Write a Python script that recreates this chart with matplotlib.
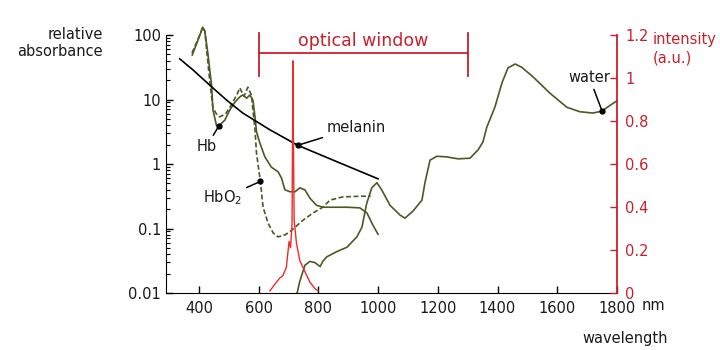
import numpy as np
import matplotlib.pyplot as plt
from matplotlib.ticker import FixedLocator, FixedFormatter, NullFormatter, LogLocator

plt.rcParams['font.family'] = 'DejaVu Sans'

# Hb (solid) - wavelength nm, log10(relative absorbance)
hb_wl = [378, 397, 413, 420, 430, 443, 447, 459, 467, 487, 504, 521, 537, 547, 560,
         571, 581, 588, 593, 604, 621, 643, 665, 677, 688, 705, 722, 738, 755, 772,
         794, 815, 896, 939, 963, 983, 1000]
hb_log = [1.69, 1.92, 2.12, 2.06, 1.72, 1.20, 0.84, 0.60, 0.59, 0.68, 0.84, 0.96, 1.04,
          1.07, 1.02, 1.07, 0.99, 0.73, 0.50, 0.33, 0.11, -0.05, -0.12, -0.22, -0.40,
          -0.43, -0.43, -0.37, -0.40, -0.53, -0.64, -0.67, -0.67, -0.68, -0.76, -0.95,
          -1.09]

# HbO2 (dashed)
hbo2_wl = [377, 403, 413, 420, 437, 447, 458, 470, 490, 504, 527, 537, 551, 564, 576,
           581, 588, 593, 606, 615, 632, 649, 665, 688, 705, 722, 749, 782, 815, 839,
           882, 939, 975]
hbo2_log = [1.72, 2.0, 2.12, 2.06, 1.26, 0.88, 0.78, 0.73, 0.78, 0.88, 1.07, 1.18, 1.05,
            1.19, 1.07, 0.84, 0.53, 0.17, -0.27, -0.67, -0.92, -1.07, -1.13, -1.10,
            -1.05, -0.98, -0.87, -0.76, -0.67, -0.56, -0.51, -0.50, -0.50]

# water
water_wl = [729, 738, 755, 772, 789, 806, 815, 828, 861, 896, 929, 946, 962, 979, 996,
            1012, 1040, 1073, 1090, 1117, 1147, 1157, 1174, 1197, 1230, 1268, 1308,
            1335, 1351, 1364, 1391, 1415, 1435, 1459, 1481, 1519, 1575, 1632, 1676,
            1719, 1750, 1777, 1800]
water_log = [-2.0, -1.82, -1.57, -1.51, -1.53, -1.59, -1.51, -1.44, -1.36, -1.29, -1.13,
             -0.98, -0.61, -0.37, -0.29, -0.40, -0.64, -0.79, -0.84, -0.73, -0.56, -0.29,
             0.06, 0.12, 0.11, 0.08, 0.09, 0.22, 0.34, 0.57, 0.88, 1.26, 1.49, 1.55,
             1.50, 1.35, 1.10, 0.88, 0.81, 0.79, 0.82, 0.91, 0.98]

# melanin
mel_wl = [336, 380, 437, 493, 547, 638, 731, 865, 1000]
mel_log = [1.63, 1.46, 1.22, 0.99, 0.79, 0.53, 0.29, 0.03, -0.23]

# red light source spectrum (right axis)
led_wl = [638, 654, 671, 681, 693, 702, 707, 712, 714, 715, 716, 719, 727, 738, 755,
          772, 789, 799]
led_int = [0.01, 0.04, 0.07, 0.08, 0.12, 0.24, 0.21, 0.32, 0.8, 1.08, 0.8, 0.34, 0.23,
           0.15, 0.10, 0.05, 0.02, 0.01]

optical_window = (600, 1300)

olive = '#4b5a22'
red = '#c8202c'
txt = '#1a1a1a'
fs = 10.5

fig = plt.figure(figsize=(7.2, 3.5), dpi=100)
ax = fig.add_axes([166 / 720, 1 - 293 / 350, (617 - 166) / 720, (293 - 35) / 350])
ax.set_yscale('log')
ax.set_xlim(290, 1800)
ax.set_ylim(0.01, 100)

ax.plot(hb_wl, 10 ** np.array(hb_log), color=olive, lw=1.2, clip_on=False)
ax.plot(hbo2_wl, 10 ** np.array(hbo2_log), color=olive, lw=1.2, ls=(0, (3, 1.5)),
        clip_on=False)
ax.plot(water_wl, 10 ** np.array(water_log), color=olive, lw=1.2, clip_on=False)
ax.plot(mel_wl, 10 ** np.array(mel_log), color='black', lw=1.2)

# labels with pointer lines
def label(text, wl, logv, dx, dy):
    y = 10 ** logv
    ax.plot([wl], [y], 'o', color='black', ms=3.5, zorder=5)
    ax.annotate(text, xy=(wl, y), xytext=(dx, dy), textcoords='offset points',
                ha='center', va='center', fontsize=fs, color=txt,
                arrowprops=dict(arrowstyle='-', color='black', lw=1.1,
                                shrinkA=1, shrinkB=0))

i = hb_wl.index(467)
label('Hb', hb_wl[i], hb_log[i], -9, -15)
i = hbo2_wl.index(606)
label('HbO$_2$', hbo2_wl[i], hbo2_log[i], -27, -12)
i = mel_wl.index(731)
label('melanin', mel_wl[i], mel_log[i], 42, 13)
i = water_wl.index(1750)
label('water', water_wl[i], water_log[i], -9, 24)

# optical window marker
ax.plot(optical_window, [10 ** 1.72] * 2, color=red, lw=1.3, clip_on=False)
for w in optical_window:
    ax.plot([w, w], [10 ** 1.36, 10 ** 2.03], color=red, lw=1.3, clip_on=False)
ax.text(np.mean(optical_window), 10 ** 1.77, 'optical window', color=red,
        fontsize=12.5, ha='center', va='bottom')

ax.spines['top'].set_visible(False)
ax.spines['right'].set_visible(False)
ax.set_xticks([400, 600, 800, 1000, 1200, 1400, 1600, 1800])
ax.set_xticklabels(['400', '600', '800', '1000', '1200', '1400', '1600', '1800'])
ax.yaxis.set_major_locator(FixedLocator([0.01, 0.1, 1, 10, 100]))
ax.yaxis.set_major_formatter(FixedFormatter(['0.01', '0.1', '1', '10', '100']))
ax.yaxis.set_minor_locator(LogLocator(base=10, subs=np.arange(2, 10)))
ax.yaxis.set_minor_formatter(NullFormatter())
ax.tick_params(axis='both', which='major', direction='in', length=5, width=1,
               labelsize=fs, colors='black', labelcolor=txt)
ax.tick_params(axis='y', which='minor', direction='in', length=3, width=0.8)
ax.tick_params(axis='x', pad=6)

ax2 = ax.twinx()
ax2.set_ylim(0, 1.2)
ax2.plot(led_wl, led_int, color='#ee2a2a', lw=1.0)
for s in ['top', 'left', 'bottom']:
    ax2.spines[s].set_visible(False)
ax2.spines['right'].set_color(red)
ax2.spines['right'].set_linewidth(1.3)
ax2.set_yticks([0, 0.2, 0.4, 0.6, 0.8, 1.0, 1.2])
ax2.set_yticklabels(['0', '0.2', '0.4', '0.6', '0.8', '1', '1.2'])
ax2.tick_params(axis='y', direction='in', length=5, width=1, colors=red,
                labelsize=fs, pad=6)

fig.text(642 / 720, 1 - 306 / 350, 'nm', fontsize=fs, color=txt, ha='left', va='center')
fig.text(668 / 720, 1 - 338 / 350, 'wavelength', fontsize=fs, color=txt,
         ha='right', va='center')
fig.text(103 / 720, 1 - 43 / 350, 'relative\nabsorbance', fontsize=fs, color=txt,
         ha='right', va='center', multialignment='right', linespacing=1.15)
fig.text(653 / 720, 1 - 49 / 350, 'intensity\n(a.u.)', fontsize=fs, color=red,
         ha='left', va='center', linespacing=1.3)

fig.savefig('out.png', dpi=100)
